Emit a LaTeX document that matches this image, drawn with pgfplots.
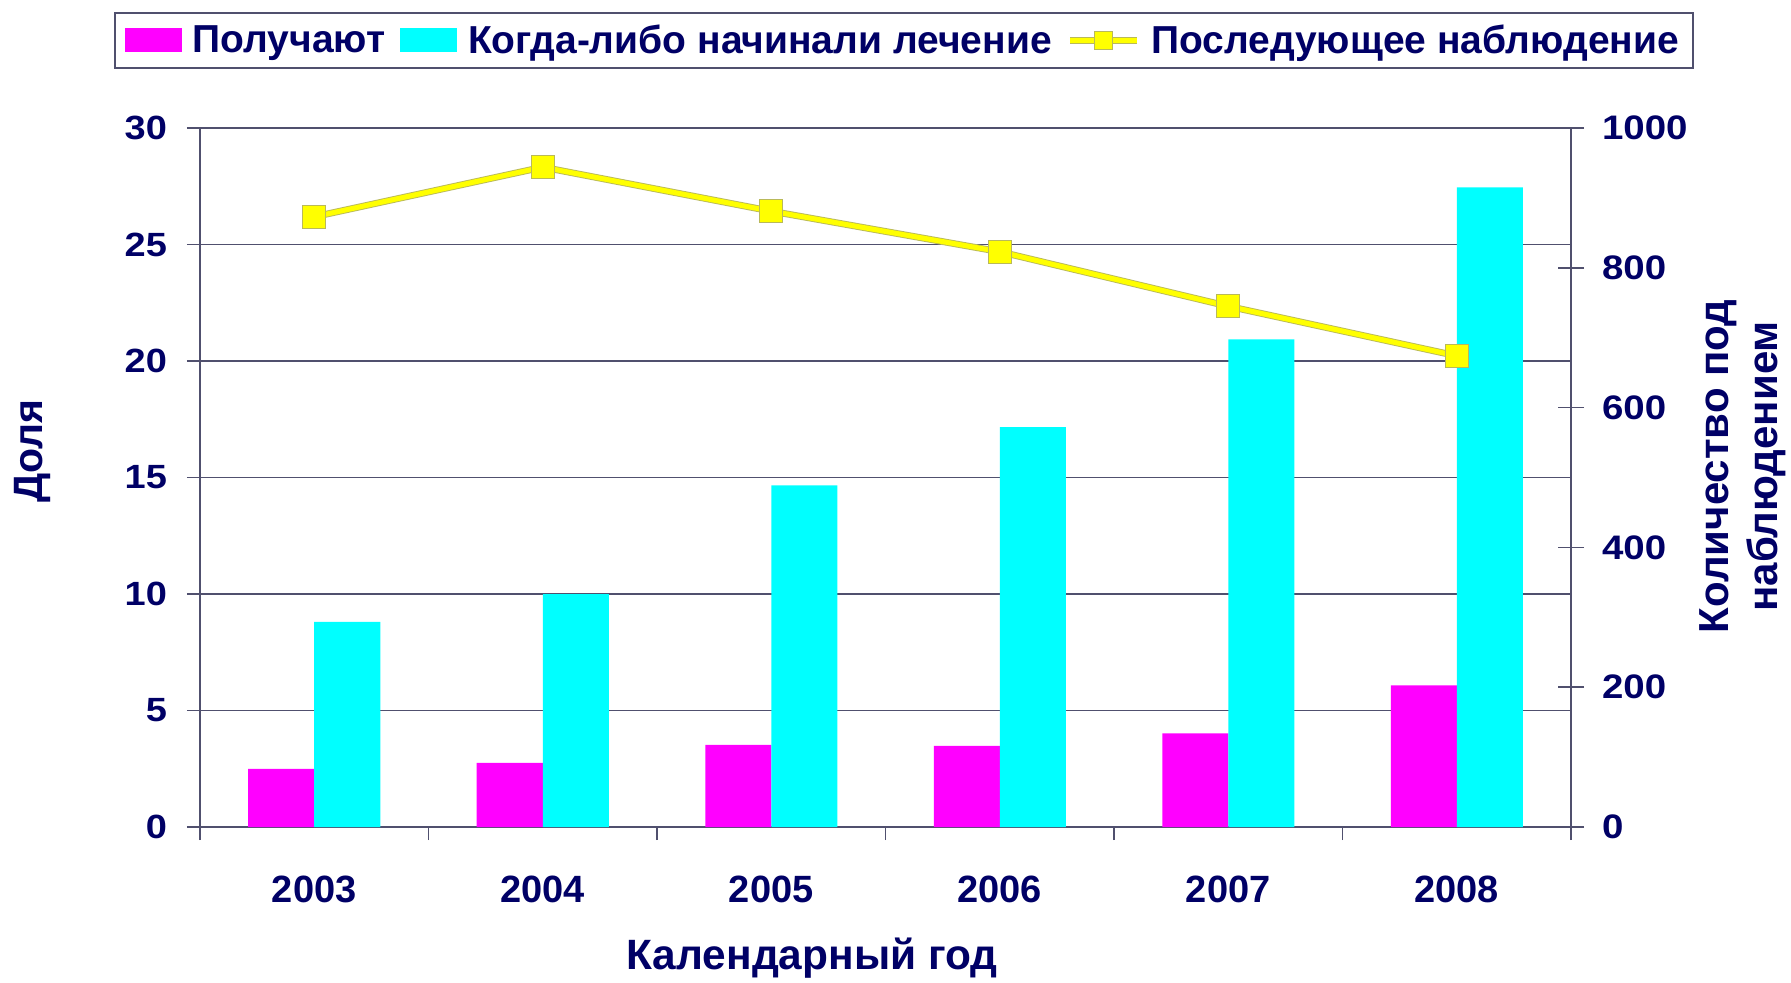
\documentclass[border=0pt]{standalone}
\usepackage{fontspec}
\setmainfont{Liberation Sans}
\newfontfamily\tickfont{Liberation Sans}[FakeStretch=1.13]
\usepackage{pgfplots}
\usepackage{pgfplotstable}
\pgfplotsset{compat=1.18}
\definecolor{txt}{RGB}{0,0,102}
\definecolor{gridc}{RGB}{80,80,110}
\definecolor{mag}{RGB}{255,0,255}
\definecolor{cyn}{RGB}{0,255,255}
\definecolor{yel}{RGB}{255,255,0}
\definecolor{olive2}{RGB}{185,185,90}
\pgfplotstableread{
x rec ever fol
0 2.50 8.80 873
1 2.75 10.00 944
2 3.53 14.66 881
3 3.48 17.16 823
4 4.02 20.93 745
5 6.08 27.45 674
}\datatable
\begin{document}
\begin{tikzpicture}
\begin{axis}[
  name=ax1, at={(0,0)}, anchor=south west,
  scale only axis, width=685.5pt, height=349.5pt,
  xmin=-0.5, xmax=5.5, ymin=0, ymax=30,
  axis x line*=bottom, axis y line*=left,
  axis line style={gridc, line width=0.75pt},
  tick style={gridc, line width=0.75pt},
  tick align=outside, major tick length=6.5pt,
  xtick={-0.5,0.5,...,5.5}, xticklabels={},
  extra x ticks={0,1,2,3,4,5},
  extra x tick labels={2003,2004,2005,2006,2007,2008},
  extra x tick style={major tick length=0pt, grid=none,
     xticklabel style={font=\fontsize{19}{21}\selectfont\bfseries, text=txt, anchor=center, yshift=-31pt}},
  ytick={0,5,...,30},
  yticklabel style={font=\fontsize{16.8}{18}\selectfont\tickfont\bfseries, text=txt, xshift=-6.5pt},
  /pgf/number format/assume math mode=true,
  ymajorgrids, grid style={gridc, line width=0.75pt},
  xlabel={Календарный год},
  xlabel style={at={(axis description cs:0.4464,0)}, anchor=center, yshift=-65.5pt,
     font=\fontsize{21.2}{24}\selectfont\bfseries, text=txt},
  ylabel={Доля},
  ylabel style={at={(axis description cs:-0.1225,0.538)}, anchor=center,
     font=\fontsize{20.5}{23}\selectfont\bfseries, text=txt},
  legend columns=-1,
  legend style={at={(axis description cs:0.5135,1.1252)}, anchor=center,
     draw=gridc, line width=1pt, fill=white,
     font=\fontsize{19.5}{22}\selectfont\bfseries, text=txt,
     inner xsep=5pt, inner ysep=4pt,
     /tikz/every odd column/.append style={column sep=3.4pt},
     /tikz/every even column/.append style={column sep=5.5pt}},
  legend cell align=left,
]
\addplot[ybar, bar width=33pt, bar shift=-16.5pt, fill=mag, draw=none,
  legend image code/.code={\fill[mag] (0pt,-6pt) rectangle (28.5pt,6pt);}]
  table[x=x,y=rec]{\datatable};
\addlegendentry{Получают}
\addplot[ybar, bar width=33pt, bar shift=16.5pt, fill=cyn, draw=none,
  legend image code/.code={\fill[cyn] (0pt,-6pt) rectangle (28.5pt,6pt);}]
  table[x=x,y=ever]{\datatable};
\addlegendentry{Когда-либо начинали лечение}
\addlegendimage{legend image code/.code={
  \draw[olive2, line width=3.3pt] (0pt,0pt) -- (33.5pt,0pt);
  \draw[yel, line width=2.5pt] (0pt,0pt) -- (33.5pt,0pt);
  \draw[olive2, fill=yel, line width=0.5pt] (12.25pt,-4.5pt) rectangle (21.25pt,4.5pt);}}
\addlegendentry{Последующее наблюдение}
\end{axis}
\begin{axis}[
  name=ax2, at={(0,0)}, anchor=south west,
  scale only axis, width=685.5pt, height=349.5pt,
  xmin=-0.5, xmax=5.5, ymin=0, ymax=1000,
  axis x line=none, axis y line*=right,
  axis line style={gridc, line width=0.75pt},
  tick style={gridc, line width=0.75pt},
  tick align=center, major tick length=13pt,
  ytick={0,200,...,1000},
  yticklabel style={font=\fontsize{17}{18}\selectfont\tickfont\bfseries, text=txt, xshift=5.5pt},
  /pgf/number format/assume math mode=true,
  /pgf/number format/1000 sep={},
  ylabel={Количество под\\наблюдением},
  ylabel style={at={(axis description cs:1.1255,0.516)}, anchor=center, align=center,
     font=\fontsize{21}{24.5}\selectfont\bfseries, text=txt},
]
\addplot[olive2, line width=3.4pt, forget plot] table[x=x,y=fol]{\datatable};
\addplot[yel, line width=2.5pt, mark=square*, mark size=5.75pt,
  mark options={fill=yel, draw=olive2, line width=0.5pt}] table[x=x,y=fol]{\datatable};
\end{axis}
\pgfresetboundingbox
\useasboundingbox (-100pt,-77.5pt) rectangle (795.5pt,413.5pt);
\end{tikzpicture}
\end{document}
